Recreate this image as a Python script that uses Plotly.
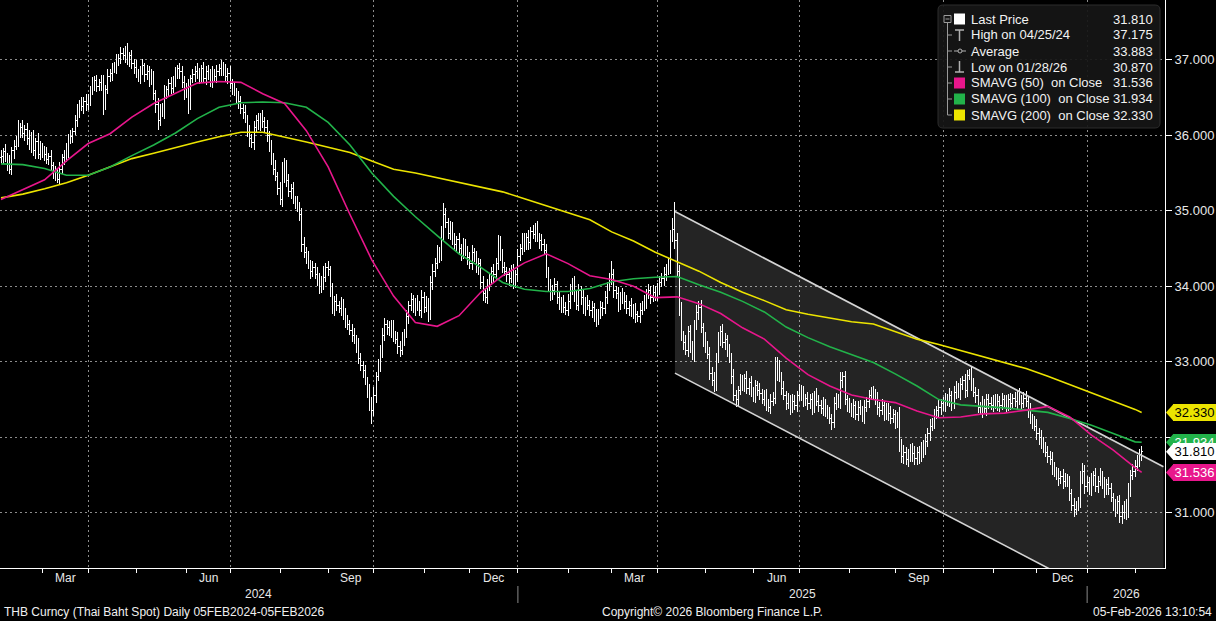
import pandas as pd
import plotly.graph_objects as go

# ---------------- data ----------------
START = "2024-02-05"

close = [
35.72,35.78,35.70,35.62,35.55,35.80,35.85,35.92,36.05,36.10,
36.02,36.08,35.95,35.85,35.98,35.80,35.92,35.75,35.85,35.80,
35.75,35.68,35.72,35.60,35.52,35.45,35.42,35.55,35.70,35.72,
35.80,35.95,35.98,36.05,36.20,36.30,36.42,36.38,36.45,36.40,
36.48,36.60,36.68,36.72,36.65,36.70,36.68,36.40,36.60,36.78,
36.82,36.88,36.90,36.98,37.02,37.08,37.05,37.12,37.00,37.05,
36.95,36.90,36.82,36.78,36.85,36.92,36.80,36.85,36.72,36.78,
36.55,36.40,36.20,36.35,36.30,36.55,36.60,36.68,36.62,36.72,
36.80,36.88,36.85,36.70,36.55,36.62,36.42,36.75,36.80,36.85,
36.82,36.78,36.88,36.75,36.85,36.80,36.72,36.82,36.78,36.85,
36.88,36.92,36.85,36.78,36.82,36.68,36.62,36.58,36.50,36.45,
36.35,36.30,36.22,36.05,35.95,35.90,36.10,36.20,36.15,36.25,
36.18,36.10,36.00,35.85,35.70,35.55,35.45,35.30,35.15,35.45,
35.60,35.40,35.25,35.30,35.15,35.10,35.05,34.95,34.55,34.45,
34.38,34.30,34.20,34.25,34.15,34.10,33.98,34.05,34.12,34.25,
34.22,33.95,33.70,33.80,33.75,33.70,33.78,33.62,33.55,33.50,
33.42,33.35,33.30,33.22,33.05,32.95,32.88,32.75,32.60,32.45,
32.35,32.55,32.80,32.95,33.15,33.35,33.50,33.45,33.40,33.48,
33.35,33.30,33.20,33.15,33.30,33.38,33.60,33.75,33.82,33.70,
33.80,33.75,33.68,33.85,33.72,33.78,33.62,34.05,34.20,34.30,
34.45,34.40,34.70,34.95,34.85,34.70,34.78,34.60,34.55,34.62,
34.50,34.42,34.55,34.48,34.38,34.30,34.45,34.38,34.25,34.30,
34.05,33.90,33.85,34.00,34.10,34.20,34.15,34.30,34.60,34.40,
34.25,34.20,34.15,34.10,34.22,34.05,34.15,34.40,34.50,34.62,
34.55,34.65,34.58,34.72,34.68,34.78,34.65,34.60,34.55,34.48,
34.20,34.00,33.90,33.95,34.02,33.85,33.75,33.80,33.72,33.68,
33.80,33.95,34.05,33.88,33.75,33.95,33.85,33.70,33.80,33.75,
33.68,33.72,33.60,33.55,33.65,33.72,33.70,33.85,34.00,34.10,
34.15,33.95,33.90,33.75,33.85,33.88,33.80,33.70,33.75,33.65,
33.70,33.62,33.60,33.68,33.75,33.80,33.90,33.95,33.85,33.92,
33.88,33.98,34.05,34.10,34.15,34.22,34.25,34.65,34.75,34.60,
34.20,33.70,33.35,33.25,33.15,33.40,33.20,33.10,33.50,33.65,
33.72,33.45,33.30,33.20,33.10,32.85,32.75,32.70,33.05,33.30,
33.40,33.25,33.30,33.15,33.05,32.80,32.55,32.50,32.62,32.75,
32.70,32.78,32.65,32.72,32.60,32.55,32.68,32.62,32.58,32.50,
32.55,32.45,32.40,32.48,32.52,32.85,32.95,32.80,32.65,32.55,
32.45,32.50,32.40,32.48,32.42,32.55,32.62,32.58,32.48,32.52,
32.45,32.50,32.40,32.55,32.48,32.42,32.38,32.45,32.35,32.30,
32.25,32.20,32.45,32.50,32.45,32.75,32.80,32.50,32.42,32.38,
32.35,32.42,32.30,32.40,32.35,32.28,32.40,32.48,32.55,32.60,
32.58,32.50,32.40,32.35,32.42,32.30,32.38,32.32,32.25,32.30,
32.20,32.25,31.90,31.75,31.80,31.70,31.75,31.85,31.78,31.72,
31.80,31.75,31.88,31.82,31.95,32.05,32.15,32.20,32.30,32.35,
32.40,32.45,32.42,32.50,32.48,32.55,32.45,32.60,32.65,32.58,
32.70,32.75,32.62,32.82,32.85,32.70,32.60,32.55,32.40,32.35,
32.45,32.38,32.50,32.45,32.42,32.50,32.45,32.48,32.42,32.50,
32.48,32.42,32.50,32.45,32.52,32.48,32.55,32.50,32.45,32.52,
32.48,32.35,32.25,32.20,32.15,32.05,32.00,31.92,31.88,31.80,
31.75,31.70,31.60,31.55,31.50,31.45,31.48,31.42,31.45,31.40,
31.25,31.10,31.05,31.08,31.15,31.45,31.55,31.35,31.40,31.30,
31.45,31.50,31.35,31.42,31.50,31.40,31.30,31.38,31.32,31.20,
31.10,31.05,31.15,30.95,31.00,31.10,31.00,31.30,31.50,31.55,
31.62,31.70,31.75,31.81]
first_open = 35.70

# wick beyond the open/close body, in hundredths
up_wick = [
8,5,10,6,12,4,9,7,15,6,10,5,8,12,6,9,4,11,7,5,
6,10,4,8,5,7,12,9,5,8,10,6,9,4,7,11,5,8,6,10,
7,5,9,6,8,4,10,12,6,9,5,8,7,10,6,9,8,6,10,5,
8,6,10,5,7,9,4,8,6,10,7,5,9,6,8,11,5,7,9,6,
10,5,8,6,9,7,12,5,8,6,10,7,5,9,6,8,7,10,5,8,
6,8,5,9,7,10,6,8,5,9,7,6,10,5,8,6,9,7,10,5,
8,6,10,5,9,7,12,6,8,20,10,7,9,6,8,5,10,6,8,10,
7,9,5,8,6,10,7,9,15,6,8,5,9,7,10,6,8,5,9,7,
6,8,10,5,9,7,6,8,5,10,8,12,6,9,7,10,8,6,9,7,
8,6,9,7,10,5,8,6,9,7,5,8,6,10,7,9,6,8,10,7,
9,7,10,15,8,6,9,7,10,5,8,6,9,7,5,8,10,6,9,7,
6,9,7,10,8,5,9,7,8,6,10,7,5,9,6,8,7,10,6,9,
8,6,10,7,9,6,8,5,9,7,8,6,10,7,9,5,8,6,9,7,
10,8,6,9,7,8,5,10,6,9,7,8,6,10,5,8,7,9,6,8,
18,8,6,9,7,10,5,8,6,9,7,8,5,10,6,9,7,8,6,10,
8,6,9,7,10,8,12,10,15,37,10,8,9,6,10,7,9,8,6,10,
8,10,6,9,7,10,8,12,6,9,7,10,8,6,9,7,10,8,6,9,
8,6,10,7,9,6,8,7,10,6,8,9,6,10,8,22,12,8,6,9,
7,9,6,10,8,6,9,7,10,6,8,7,9,6,10,8,7,9,6,8,
10,6,8,9,7,12,7,8,6,10,7,9,6,8,10,7,9,6,8,7,
8,6,10,7,9,6,8,7,10,8,6,9,15,8,10,7,9,6,8,10,
7,9,6,8,10,7,9,6,8,7,10,6,8,9,7,10,6,8,9,7,
8,6,9,7,5,10,8,6,9,7,10,6,8,7,9,6,8,10,7,9,
6,8,7,9,6,8,7,10,6,8,9,7,10,6,8,9,7,10,8,6,
9,7,10,8,6,9,7,10,8,6,9,7,10,8,6,10,11,8,9,7,
8,6,10,7,9,6,8,7,10,8,6,9,7,8,10,6,8,9,7,10,
8,6,9,7]
down_wick = [
7,10,5,9,6,8,12,5,7,9,6,10,8,5,9,7,11,6,8,10,
9,6,8,7,10,5,5,8,6,9,7,10,6,8,5,9,7,6,10,8,
6,9,7,10,8,6,9,13,7,5,8,10,6,9,7,8,6,9,7,10,
7,9,6,8,10,5,9,7,8,6,9,10,13,8,6,9,7,10,8,6,
8,6,10,7,9,6,14,8,6,9,7,10,8,6,9,7,8,10,6,9,
7,9,6,8,10,7,9,6,8,10,7,9,6,8,10,7,9,6,8,10,
8,6,9,7,10,8,6,9,7,10,8,9,7,10,6,8,7,9,10,8,
9,7,10,8,6,9,8,7,10,6,8,9,7,10,8,6,9,7,10,8,
7,9,6,10,8,7,9,6,8,10,18,7,9,6,8,10,7,9,6,8,
9,7,10,8,6,9,7,10,8,6,9,8,7,10,8,6,9,7,10,8,
7,9,6,10,8,7,9,6,8,10,7,9,6,8,10,7,9,6,8,10,
8,10,7,9,6,8,10,7,9,6,8,7,10,9,6,8,7,9,6,8,
9,7,10,8,6,9,7,10,8,6,9,7,10,8,6,9,7,10,8,6,
8,10,7,9,6,8,10,7,9,6,8,10,7,9,6,8,10,7,9,6,
8,10,7,9,6,8,10,7,9,6,8,10,7,9,6,8,10,7,9,6,
8,7,9,6,10,8,7,9,6,10,8,9,7,10,6,8,9,7,10,8,
9,7,10,8,6,9,7,10,8,6,9,7,10,8,6,9,7,10,8,6,
8,10,7,9,6,8,10,7,9,6,8,10,7,9,6,8,10,7,9,6,
9,7,10,8,6,9,7,10,8,6,9,7,10,8,6,9,7,10,8,6,
8,10,7,9,6,8,10,7,9,6,8,10,7,9,6,8,10,7,9,6,
9,7,10,8,6,9,7,10,8,6,9,7,10,9,10,6,9,7,10,8,
8,10,7,9,6,8,10,7,9,6,8,10,7,9,6,8,10,7,9,6,
9,7,10,8,6,9,7,10,8,6,9,7,10,8,6,9,7,10,8,6,
8,10,7,9,6,8,10,7,9,6,8,10,7,9,6,8,10,7,9,6,
9,7,10,8,6,9,7,10,8,6,9,7,10,8,6,9,7,10,8,6,
8,10,7,9,6,8,10,7,9,6,8,10,7,8,10,8,10,7,9,6,
8,7,9,6]

# moving averages, sampled every 10 trading days (plus the last day)
MA_STEP = 10
sma50 = [35.15,35.28,35.41,35.66,35.89,36.02,36.24,36.42,36.56,36.69,
         36.71,36.70,36.55,36.42,36.06,35.58,34.95,34.35,33.87,33.52,
         33.47,33.61,33.92,34.14,34.31,34.43,34.30,34.14,34.09,34.00,
         33.85,33.86,33.77,33.64,33.45,33.30,33.05,32.83,32.68,32.56,
         32.50,32.46,32.35,32.26,32.27,32.31,32.32,32.36,32.41,32.27,
         32.03,31.83,31.60,31.536]
sma100 = [35.62,35.61,35.56,35.47,35.47,35.58,35.73,35.87,36.03,36.22,
          36.37,36.43,36.44,36.43,36.37,36.17,35.87,35.50,35.19,34.92,
          34.67,34.43,34.25,34.05,33.96,33.93,33.93,33.97,34.06,34.10,
          34.12,34.13,34.02,33.92,33.80,33.66,33.46,33.32,33.20,33.10,
          32.99,32.84,32.68,32.50,32.43,32.41,32.39,32.36,32.33,32.25,
          32.16,32.05,31.94,31.934]
sma200 = [35.17,35.22,35.29,35.37,35.47,35.58,35.69,35.76,35.84,35.91,
          35.98,36.04,36.04,35.98,35.91,35.84,35.77,35.66,35.55,35.50,
          35.44,35.38,35.32,35.25,35.16,35.07,34.97,34.88,34.72,34.60,
          34.45,34.33,34.20,34.05,33.92,33.81,33.69,33.63,33.58,33.53,
          33.50,33.40,33.30,33.23,33.15,33.08,33.00,32.91,32.81,32.70,
          32.60,32.49,32.37,32.33]

# trend channel (upper line; lower line parallel)
channel_dates = ["2025-04-11", "2026-02-19"]
channel_upper = [34.99, 31.61]
channel_width = 2.14

y_ticks = [31, 32, 33, 34, 35, 36, 37]
legend_labels = ["Last Price", "High on 04/25/24", "Average", "Low on 01/28/26",
                 "SMAVG (50)\u00a0\u00a0on Close", "SMAVG (100)\u00a0\u00a0on Close",
                 "SMAVG (200)\u00a0\u00a0on Close"]
legend_values = ["31.810", "37.175", "33.883", "30.870", "31.536", "31.934", "32.330"]
footer_left = "THB Curncy (Thai Baht Spot) Daily 05FEB2024-05FEB2026"
footer_mid = "Copyright\u00a9 2026 Bloomberg Finance L.P."
footer_right = "05-Feb-2026 13:10:54"

# ---------------- styling ----------------
FONT = "Liberation Sans, Arial, sans-serif"
W, H = 1216, 621
ML, MR, MT, MB = 0, 51, 0, 53
PW, PH = W - ML - MR, H - MT - MB
XR = [-0.46, 533.7]
YR = [30.27, 37.79]
MAG, GRN, YEL = "#e8168c", "#22b34a", "#ece400"
GRID = "#8c8c8c"

n = min(len(close), len(up_wick), len(down_wick))
cal = pd.bdate_range(START, "2026-12-31")
def xi(d):
    return int(cal.searchsorted(pd.Timestamp(d)))

xs = list(range(n))
opens = [first_open] + close[:n - 1]
highs = [max(o, c) + u / 100 for o, c, u in zip(opens, close[:n], up_wick[:n])]
lows = [min(o, c) - d / 100 for o, c, d in zip(opens, close[:n], down_wick[:n])]

ma_x = list(range(0, n, MA_STEP))
if ma_x[-1] != n - 1:
    ma_x.append(n - 1)

def px2x(px):
    return px / PW
def py2y(py):
    return 1 - py / PH
def xpaper(i):
    return (i - XR[0]) / (XR[1] - XR[0])

fig = go.Figure()

# channel
c0, c1 = xi(channel_dates[0]), xi(channel_dates[1])
lo0, lo1 = channel_upper[0] - channel_width, channel_upper[1] - channel_width
fig.add_trace(go.Scatter(x=[c0, c1, c1, c0, c0],
                         y=[channel_upper[0], channel_upper[1], lo1, lo0, channel_upper[0]],
                         fill="toself", fillcolor="rgba(255,255,255,0.14)",
                         mode="lines", line=dict(width=0), hoverinfo="skip", showlegend=False))
for yy in ([channel_upper[0], channel_upper[1]], [lo0, lo1]):
    fig.add_trace(go.Scatter(x=[c0, c1], y=yy, mode="lines",
                             line=dict(color="#d4d4d4", width=1.6),
                             hoverinfo="skip", showlegend=False))

# moving averages
for vals, col in ((sma200, YEL), (sma100, GRN), (sma50, MAG)):
    m = min(len(vals), len(ma_x))
    fig.add_trace(go.Scatter(x=ma_x[:m], y=vals[:m], mode="lines",
                             line=dict(color=col, width=1.6),
                             hoverinfo="skip", showlegend=False))

# price bars
fig.add_trace(go.Ohlc(x=xs, open=opens, high=highs, low=lows, close=close[:n],
                      increasing=dict(line=dict(color="white", width=1)),
                      decreasing=dict(line=dict(color="white", width=1)),
                      tickwidth=0.4, hoverinfo="skip", showlegend=False))

months = pd.date_range("2024-03-01", "2026-02-01", freq="MS")
month_pos = [xi(m) for m in months]
quarter_pos = [xi(m) for m in months if m.month in (1, 4, 7, 10)]

shapes = []
annotations = []

# value tags at right: pointed tip as shape, box as annotation background
half = 8.5 * (YR[1] - YR[0]) / PH
def tag_tip(v):
    a, b = 1 + 1 / PW, 1 + 8.5 / PW
    return f"M {a},{v} L {b},{v + half} L {b},{v - half} Z"

for v, fill, tc in ((sma100[-1], GRN, "white"),
                    (close[n - 1], "white", "black"),
                    (sma200[-1], YEL, "black"),
                    (sma50[-1], MAG, "white")):
    shapes.append(dict(type="path", xref="paper", yref="y", path=tag_tip(v),
                       fillcolor=fill, line=dict(width=0), layer="above"))
    annotations.append(dict(x=1 + 8 / PW, xref="paper", y=v, yref="y",
                            text=f"{v:.3f}", showarrow=False, xanchor="left",
                            yanchor="middle", width=43, height=17, align="center",
                            bgcolor=fill, borderpad=0, borderwidth=0,
                            font=dict(family=FONT, size=13, color=tc)))

# legend box (rounded)
def rrect(x0, y0, x1, y1, r):
    X = lambda p: px2x(p)
    Y = lambda p: py2y(p)
    return (f"M {X(x0 + r)},{Y(y0)} L {X(x1 - r)},{Y(y0)} Q {X(x1)},{Y(y0)} {X(x1)},{Y(y0 + r)} "
            f"L {X(x1)},{Y(y1 - r)} Q {X(x1)},{Y(y1)} {X(x1 - r)},{Y(y1)} "
            f"L {X(x0 + r)},{Y(y1)} Q {X(x0)},{Y(y1)} {X(x0)},{Y(y1 - r)} "
            f"L {X(x0)},{Y(y0 + r)} Q {X(x0)},{Y(y0)} {X(x0 + r)},{Y(y0)} Z")
shapes.append(dict(type="path", xref="paper", yref="paper", path=rrect(938, 5, 1160, 128, 5),
                   fillcolor="rgba(22,22,22,0.93)", line=dict(color="#2c2c2c", width=1),
                   layer="above"))
rows = [19, 35, 51, 67, 83, 99, 115]
TREE = "#9a9a9a"
def pline(x0, y0, x1, y1, col=TREE, w=1):
    shapes.append(dict(type="line", xref="paper", yref="paper",
                       x0=px2x(x0), x1=px2x(x1), y0=py2y(y0), y1=py2y(y1),
                       line=dict(color=col, width=w), layer="above"))
shapes.append(dict(type="rect", xref="paper", yref="paper",
                   x0=px2x(944), x1=px2x(951), y0=py2y(22.5), y1=py2y(15.5),
                   line=dict(color=TREE, width=1), layer="above"))
pline(945.5, 19, 949.5, 19)
pline(947.5, 22.5, 947.5, 115)
for ry in rows[1:]:
    pline(947.5, ry, 952, ry)
def square(ry, col):
    shapes.append(dict(type="rect", xref="paper", yref="paper",
                       x0=px2x(954), x1=px2x(965), y0=py2y(ry + 5.5), y1=py2y(ry - 5.5),
                       fillcolor=col, line=dict(width=0), layer="above"))
square(rows[0], "white")
square(rows[4], MAG)
square(rows[5], GRN)
square(rows[6], YEL)
ICON = "#b0b0b0"
pline(955, 30, 964, 30, ICON, 1.5)
pline(959.5, 30, 959.5, 41, ICON, 1.5)
pline(954, 51, 966, 51, ICON, 1)
shapes.append(dict(type="circle", xref="paper", yref="paper",
                   x0=px2x(958), x1=px2x(962), y0=py2y(53), y1=py2y(49),
                   line=dict(color=ICON, width=1), fillcolor="#161616", layer="above"))
pline(959.5, 61, 959.5, 72, ICON, 1.5)
pline(955, 72, 964, 72, ICON, 1.5)
for ry, lab, val in zip(rows, legend_labels, legend_values):
    annotations.append(dict(x=px2x(969), y=py2y(ry), xref="paper", yref="paper",
                            text=lab, showarrow=False, xanchor="left", yanchor="middle",
                            font=dict(family=FONT, size=13, color="#f2f2f2")))
    annotations.append(dict(x=px2x(1155), y=py2y(ry), xref="paper", yref="paper",
                            text=val, showarrow=False, xanchor="right", yanchor="middle",
                            font=dict(family=FONT, size=13, color="#f2f2f2")))

# month / year labels
for k, m in enumerate(months):
    if m.month in (3, 6, 9, 12):
        nxt = xi(m + pd.offsets.MonthBegin(1))
        annotations.append(dict(x=(month_pos[k] + nxt) / 2, xref="x", y=py2y(578),
                                yref="paper", text=m.strftime("%b"), showarrow=False,
                                xanchor="center", yanchor="middle",
                                font=dict(family=FONT, size=12, color="#e8e8e8")))
y25, y26 = xi("2025-01-01"), xi("2026-01-01")
for lab, a, b in (("2024", XR[0], y25), ("2025", y25, y26), ("2026", y26, XR[1])):
    annotations.append(dict(x=(a + b) / 2, xref="x", y=py2y(594), yref="paper",
                            text=lab, showarrow=False, xanchor="center", yanchor="middle",
                            font=dict(family=FONT, size=12, color="#e8e8e8")))
for p in (y25, y26):
    shapes.append(dict(type="line", xref="paper", yref="paper",
                       x0=xpaper(p), x1=xpaper(p), y0=py2y(586), y1=py2y(603),
                       line=dict(color="#8a8a8a", width=1)))

# footer
for txt, px, anc in ((footer_left, 2, "left"), (footer_mid, 712, "center"),
                     (footer_right, 1214, "right")):
    annotations.append(dict(x=px2x(px), y=py2y(612), xref="paper", yref="paper",
                            text=txt, showarrow=False, xanchor=anc, yanchor="middle",
                            font=dict(family=FONT, size=12, color="#f0f0f0")))

fig.update_layout(
    width=W, height=H, autosize=False,
    margin=dict(l=ML, r=MR, t=MT, b=MB, pad=0),
    paper_bgcolor="black", plot_bgcolor="black",
    showlegend=False, hovermode=False,
    shapes=shapes, annotations=annotations,
    font=dict(family=FONT, color="#e8e8e8"),
    xaxis=dict(range=XR, showline=True, linecolor="white", linewidth=1,
               tickmode="array", tickvals=quarter_pos, ticktext=[""] * len(quarter_pos),
               ticks="outside", ticklen=5, tickcolor="white", showticklabels=False,
               showgrid=True, gridcolor=GRID, griddash="2px,3px", gridwidth=1,
               zeroline=False, rangeslider=dict(visible=False), fixedrange=True,
               minor=dict(tickvals=month_pos, ticks="outside", ticklen=4,
                          tickcolor="white", showgrid=False)),
    yaxis=dict(range=YR, side="right", showline=True, linecolor="white", linewidth=1,
               tickmode="array", tickvals=y_ticks,
               ticktext=["" if t == 32 else f"{t:.3f}" for t in y_ticks],
               ticks="outside", ticklen=6, tickcolor="white",
               tickfont=dict(family=FONT, size=13, color="#e8e8e8"),
               showgrid=True, gridcolor=GRID, griddash="2px,3px", gridwidth=1,
               zeroline=False, fixedrange=True),
)

crisp = ("document.querySelectorAll('.ohlclayer path, .trace.ohlc path')"
         ".forEach(function(p){p.style.shapeRendering='crispEdges';});")
fig.write_html("out.html", post_script=crisp)
